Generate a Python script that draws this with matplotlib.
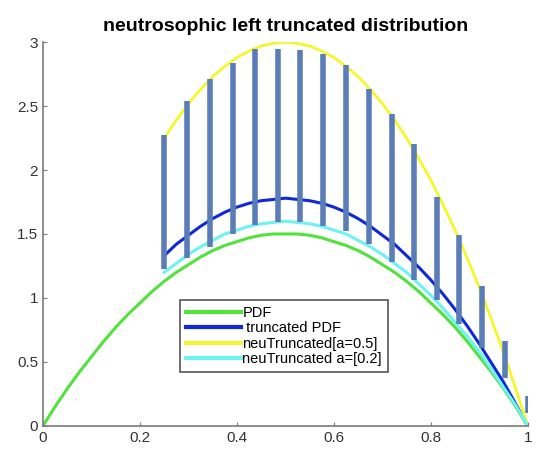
import matplotlib

matplotlib.use("Agg")

import matplotlib.pyplot as plt

plt.rcParams["font.family"] = ["Liberation Sans", "DejaVu Sans"]

GREEN  = "#52e23c"
BLUE   = "#0f28d8"
YELLOW = "#f6f62a"
CYAN   = "#6ef2f2"
STEEL  = "#5a7db8"
AXIS   = "#7a7a7a"

# PDF over the whole support
x_pdf = [0.000, 0.025, 0.050, 0.075, 0.100, 0.125, 0.150, 0.175, 0.200, 0.225,
         0.250, 0.275, 0.300, 0.325, 0.350, 0.375, 0.400, 0.425, 0.450, 0.475,
         0.500, 0.525, 0.550, 0.575, 0.600, 0.625, 0.650, 0.675, 0.700, 0.725,
         0.750, 0.775, 0.800, 0.825, 0.850, 0.875, 0.900, 0.925, 0.950, 0.975,
         1.000]
pdf = [0.00, 0.15, 0.29, 0.42, 0.54, 0.66, 0.77, 0.87, 0.96, 1.05,
       1.13, 1.20, 1.26, 1.32, 1.37, 1.41, 1.44, 1.47, 1.49, 1.50,
       1.50, 1.50, 1.49, 1.47, 1.44, 1.41, 1.37, 1.32, 1.26, 1.20,
       1.13, 1.05, 0.96, 0.87, 0.77, 0.66, 0.54, 0.42, 0.29, 0.15,
       0.00]

# truncated curves, from the truncation point on
x_tr = [0.250, 0.275, 0.300, 0.325, 0.350, 0.375, 0.400, 0.425, 0.450, 0.475,
        0.500, 0.525, 0.550, 0.575, 0.600, 0.625, 0.650, 0.675, 0.700, 0.725,
        0.750, 0.775, 0.800, 0.825, 0.850, 0.875, 0.900, 0.925, 0.950, 0.975,
        1.000]
truncated = [1.33, 1.42, 1.49, 1.56, 1.62, 1.67, 1.71, 1.74, 1.76, 1.77,
             1.78, 1.77, 1.76, 1.74, 1.71, 1.67, 1.62, 1.56, 1.49, 1.42,
             1.33, 1.24, 1.14, 1.03, 0.91, 0.78, 0.64, 0.49, 0.34, 0.17,
             0.00]
neu_upper = [2.25, 2.39, 2.52, 2.63, 2.73, 2.81, 2.88, 2.93, 2.97, 2.99,
             3.00, 2.99, 2.97, 2.93, 2.88, 2.81, 2.73, 2.63, 2.52, 2.39,
             2.25, 2.09, 1.92, 1.73, 1.53, 1.31, 1.08, 0.83, 0.57, 0.29,
             0.00]
neu_lower = [1.20, 1.27, 1.34, 1.40, 1.45, 1.50, 1.53, 1.56, 1.58, 1.59,
             1.60, 1.59, 1.58, 1.56, 1.53, 1.50, 1.45, 1.40, 1.34, 1.27,
             1.20, 1.11, 1.02, 0.92, 0.81, 0.70, 0.58, 0.44, 0.30, 0.16,
             0.00]

# neutrosophic interval bars
x_bar = [0.250, 0.297, 0.344, 0.391, 0.438, 0.484, 0.531, 0.578, 0.625,
         0.672, 0.719, 0.766, 0.812, 0.859, 0.906, 0.953, 1.000]
bar_lo = [1.23, 1.31, 1.40, 1.50, 1.57, 1.59, 1.59, 1.56, 1.52,
          1.42, 1.28, 1.14, 0.98, 0.80, 0.61, 0.37, 0.10]
bar_hi = [2.27, 2.54, 2.71, 2.84, 2.95, 2.95, 2.94, 2.91, 2.82,
          2.63, 2.44, 2.20, 1.79, 1.49, 1.09, 0.66, 0.23]

fig = plt.figure(figsize=(5.37, 4.53), dpi=100)
ax = fig.add_axes([0.080, 0.060, 0.903, 0.847])

ax.plot(x_pdf, pdf, color=GREEN, linewidth=2.2, label="PDF")
ax.plot(x_tr, truncated, color=BLUE, linewidth=2.2, label=" truncated PDF")
ax.plot(x_tr, neu_upper, color=YELLOW, linewidth=2.0, label="neuTruncated[a=0.5]")
ax.plot(x_tr, neu_lower, color=CYAN, linewidth=2.2, label="neuTruncated a=[0.2]")
ax.vlines(x_bar, bar_lo, bar_hi, color=STEEL, linewidth=4.0, zorder=5)

ax.set_xlim(0, 1)
ax.set_ylim(0, 3)
ax.set_xticks([0, 0.2, 0.4, 0.6, 0.8, 1])
ax.set_xticklabels(["0", "0.2", "0.4", "0.6", "0.8", "1"])
ax.set_yticks([0, 0.5, 1, 1.5, 2, 2.5, 3])
ax.set_yticklabels(["0", "0.5", "1", "1.5", "2", "2.5", "3"])
ax.tick_params(direction="in", length=3, colors=AXIS, labelcolor="#333333",
               labelsize=11)
for spine in ("top", "right"):
    ax.spines[spine].set_visible(False)
for spine in ("bottom", "left"):
    ax.spines[spine].set_color(AXIS)
    ax.spines[spine].set_linewidth(1.2)

ax.set_title("neutrosophic left truncated distribution", fontsize=14,
             fontweight="bold", pad=8)

leg = ax.legend(loc="lower left", bbox_to_anchor=(0.282, 0.14),
                fontsize=10.5, handlelength=3.8, handletextpad=0.1,
                labelspacing=0.1, borderpad=0.4, borderaxespad=0,
                fancybox=False, framealpha=1)
leg.get_frame().set_edgecolor("#555555")
leg.get_frame().set_linewidth(1.2)
for line in leg.get_lines():
    line.set_linewidth(3)

fig.savefig("out.png", dpi=100, facecolor="white")
